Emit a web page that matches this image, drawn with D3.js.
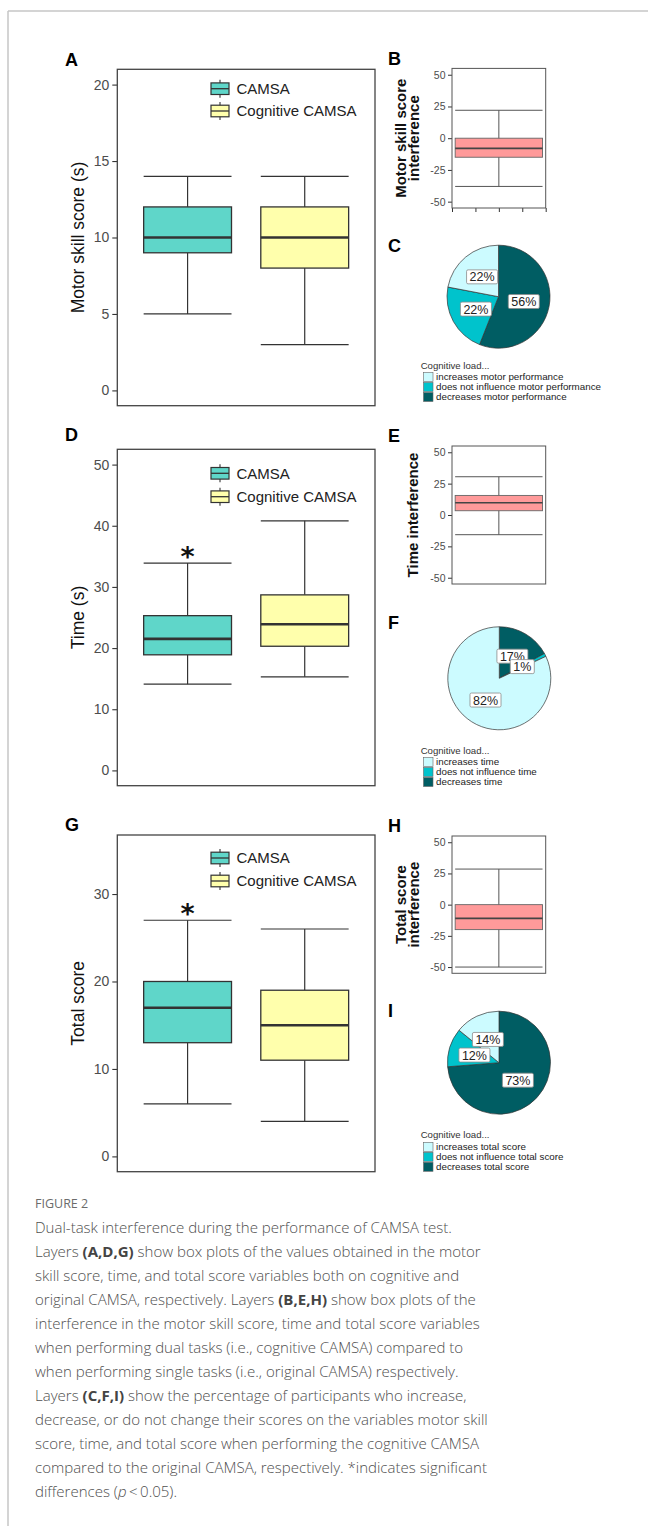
<!DOCTYPE html>
<html><head><meta charset="utf-8">
<script src="https://cdn.jsdelivr.net/npm/d3@7"></script>
<style>body{margin:0;background:#fff}svg{display:block}</style>
</head><body>
<svg id="c" width="648" height="1526"></svg>
<script>
// ---------------- DATA ----------------
const groups = ["CAMSA", "Cognitive CAMSA"];
// [min, q1, median, q3, max]
const motorCAMSA = [5, 9, 10, 12, 14];
const motorCognitive = [3, 8, 10, 12, 14];
const timeCAMSA = [14.1, 18.9, 21.5, 25.3, 33.9];
const timeCognitive = [15.3, 20.3, 23.9, 28.7, 40.8];
const totalCAMSA = [6, 13, 17, 20, 27];
const totalCognitive = [4, 11, 15, 19, 26];
const motorSignificant = [];
const timeSignificant = ["CAMSA"];
const totalSignificant = ["CAMSA"];
const motorTicks = [0, 5, 10, 15, 20];
const timeTicks = [0, 10, 20, 30, 40, 50];
const totalTicks = [0, 10, 20, 30];

const motorInterference = [-38, -15, -8, 0, 22];
const timeInterference = [-15.7, 3.4, 9.8, 15.6, 30.5];
const totalInterference = [-50, -20, -11, 0, 28.5];
const interferenceTicks = [-50, -25, 0, 25, 50];
const motorInterferenceXTicks = [0, 0.25, 0.5, 0.75, 1];

// legend order: increases, does not influence, decreases
const motorPieLabels = ["increases motor performance", "does not influence motor performance", "decreases motor performance"];
const motorPie = [22, 22, 56];
const timePieLabels = ["increases time", "does not influence time", "decreases time"];
const timePie = [82, 1, 17];
const totalPieLabels = ["increases total score", "does not influence total score", "decreases total score"];
const totalPie = [14, 12, 73];

// ---------------- STYLE ----------------
const FONT = "'Liberation Sans', Arimo, Arial, Helvetica, sans-serif";
const groupFill = {"CAMSA": "#5fd6c9", "Cognitive CAMSA": "#ffffac"};
const pieFill = ["#ccfbff", "#00c3cc", "#005d63"];
const interfFill = "#ff9a9a";

const svg = d3.select("#c");

// page frame
svg.append("line").attr("x1", 8).attr("x2", 648).attr("y1", 11).attr("y2", 11).attr("stroke", "#c6c6c6").attr("stroke-width", 1.5);
svg.append("line").attr("x1", 8).attr("x2", 8).attr("y1", 11).attr("y2", 1526).attr("stroke", "#c6c6c6").attr("stroke-width", 1.5);

function panelLetter(t, x, y) {
  svg.append("text").attr("x", x).attr("y", y).text(t)
    .attr("font-family", FONT).attr("font-weight", "bold").attr("font-size", 18).attr("fill", "#000");
}

function mainBox(cfg) {
  const g = svg.append("g");
  const {x0, x1, y0, y1} = cfg.frame;
  const x = d3.scalePoint().domain(groups).range([x0, x1]).padding(0.6);
  const bw = 0.75 * x.step();
  const y = d3.scaleLinear().domain(cfg.domain).range([y1, y0]);
  // axis
  const ax = g.append("g").attr("transform", `translate(${x0},0)`)
    .call(d3.axisLeft(y).tickValues(cfg.ticks).tickSize(5).tickPadding(3).tickFormat(d => String(d)));
  ax.select(".domain").remove();
  ax.selectAll(".tick line").attr("stroke", "#333").attr("stroke-width", 1.1);
  ax.selectAll(".tick text").attr("font-family", FONT).attr("font-size", 14).attr("fill", "#4d4d4d");
  // title
  g.append("text").attr("transform", `translate(${cfg.titleX},${(y0 + y1) / 2}) rotate(-90)`)
    .attr("text-anchor", "middle").attr("dy", "0.35em")
    .attr("font-family", FONT).attr("font-size", 17.5).attr("fill", "#111").text(cfg.title);
  // boxes
  cfg.data.forEach((s, i) => {
    const gr = groups[i], cx = x(gr);
    const [mn, q1, md, q3, mx] = s;
    const bg = g.append("g");
    bg.append("line").attr("x1", cx).attr("x2", cx).attr("y1", y(mx)).attr("y2", y(q3)).attr("stroke", "#333").attr("stroke-width", 1.2);
    bg.append("line").attr("x1", cx).attr("x2", cx).attr("y1", y(q1)).attr("y2", y(mn)).attr("stroke", "#333").attr("stroke-width", 1.2);
    [mn, mx].forEach(v => bg.append("line").attr("x1", cx - bw / 2).attr("x2", cx + bw / 2).attr("y1", y(v)).attr("y2", y(v)).attr("stroke", "#333").attr("stroke-width", 1.2));
    bg.append("rect").attr("x", cx - bw / 2).attr("width", bw).attr("y", y(q3)).attr("height", y(q1) - y(q3))
      .attr("fill", groupFill[gr]).attr("stroke", "#333").attr("stroke-width", 1.3);
    bg.append("line").attr("x1", cx - bw / 2).attr("x2", cx + bw / 2).attr("y1", y(md)).attr("y2", y(md)).attr("stroke", "#333").attr("stroke-width", 2.6);
    if (cfg.sig.includes(gr)) {
      g.append("text").attr("x", cx).attr("y", y(mx) + 3).attr("text-anchor", "middle")
        .attr("font-family", "'DejaVu Sans', sans-serif").attr("font-weight", "bold").attr("font-size", 27).attr("fill", "#111").text("*");
    }
  });
  // legend
  groups.forEach((gr, i) => {
    const cy = cfg.legendY[i], lx = 211;
    g.append("line").attr("x1", lx + 9).attr("x2", lx + 9).attr("y1", cy - 9).attr("y2", cy + 9).attr("stroke", "#333").attr("stroke-width", 1.1);
    g.append("rect").attr("x", lx).attr("y", cy - 5.8).attr("width", 18).attr("height", 11.6)
      .attr("fill", groupFill[gr]).attr("stroke", "#333").attr("stroke-width", 1.2);
    g.append("line").attr("x1", lx).attr("x2", lx + 18).attr("y1", cy).attr("y2", cy).attr("stroke", "#333").attr("stroke-width", 1.3);
    g.append("text").attr("x", 236.5).attr("y", cy).attr("dy", "0.36em").attr("font-family", FONT)
      .attr("font-size", 15).attr("fill", "#222").text(gr);
  });
  // frame
  g.append("rect").attr("x", x0).attr("y", y0).attr("width", x1 - x0).attr("height", y1 - y0)
    .attr("fill", "none").attr("stroke", "#444").attr("stroke-width", 1.3);
}

function smallBox(cfg) {
  const g = svg.append("g");
  const {x0, x1, y0, y1} = cfg.frame;
  const x = d3.scaleBand().domain(["interference"]).range([x0, x1]).padding(0.035);
  const y = d3.scaleLinear().domain([-55, 55]).range([y1, y0]);
  const ax = g.append("g").attr("transform", `translate(${x0},0)`)
    .call(d3.axisLeft(y).tickValues(interferenceTicks).tickSize(4).tickPadding(2.5).tickFormat(d => String(d)));
  ax.select(".domain").remove();
  ax.selectAll(".tick line").attr("stroke", "#333");
  ax.selectAll(".tick text").attr("font-family", FONT).attr("font-size", 10.5).attr("fill", "#4d4d4d");
  if (cfg.xTicks) {
    const xs = d3.scaleLinear().domain([0, 1]).range([x0, x1]);
    const bx = g.append("g").attr("transform", `translate(0,${y1})`)
      .call(d3.axisBottom(xs).tickValues(cfg.xTicks).tickSize(4).tickFormat(""));
    bx.select(".domain").remove();
    bx.selectAll(".tick line").attr("stroke", "#333");
  }
  cfg.title.forEach((t, i) => {
    g.append("text").attr("transform", `translate(${cfg.titleX[i]},${(y0 + y1) / 2}) rotate(-90)`)
      .attr("text-anchor", "middle").attr("dy", "0.35em").attr("font-family", FONT)
      .attr("font-weight", "bold").attr("font-size", 15).attr("fill", "#111").text(t);
  });
  const [mn, q1, md, q3, mx] = cfg.data;
  const bx0 = x("interference"), bw = x.bandwidth(), cx = bx0 + bw / 2;
  g.append("line").attr("x1", cx).attr("x2", cx).attr("y1", y(mx)).attr("y2", y(mn)).attr("stroke", "#555").attr("stroke-width", 1);
  [mn, mx].forEach(v => g.append("line").attr("x1", bx0).attr("x2", bx0 + bw).attr("y1", y(v)).attr("y2", y(v)).attr("stroke", "#555").attr("stroke-width", 1));
  g.append("rect").attr("x", bx0).attr("width", bw).attr("y", y(q3)).attr("height", y(q1) - y(q3))
    .attr("fill", interfFill).attr("stroke", "#666").attr("stroke-width", 0.9);
  g.append("line").attr("x1", bx0).attr("x2", bx0 + bw).attr("y1", y(md)).attr("y2", y(md)).attr("stroke", "#444").attr("stroke-width", 1.6);
  g.append("rect").attr("x", x0).attr("y", y0).attr("width", x1 - x0).attr("height", y1 - y0)
    .attr("fill", "none").attr("stroke", "#555").attr("stroke-width", 1);
}

function pieChart(cfg) {
  const g = svg.append("g");
  const R = 51.5;
  const items = cfg.values.map((v, i) => ({v, i, label: cfg.labels[i]}));
  const drawOrder = items.slice().reverse();
  const arcs = d3.pie().sort(null).value(d => d.v)(drawOrder);
  const arc = d3.arc().innerRadius(0).outerRadius(R);
  const pg = g.append("g").attr("transform", `translate(${cfg.cx},${cfg.cy})`);
  pg.selectAll("path").data(arcs).join("path").attr("d", arc)
    .attr("fill", d => pieFill[d.data.i]).attr("stroke", "#333").attr("stroke-width", 0.7);
  arcs.forEach(a => {
    const [lx, ly] = arc.centroid(a);
    const t = pg.append("text").attr("x", lx).attr("y", ly).attr("dy", "0.36em").attr("text-anchor", "middle")
      .attr("font-family", FONT).attr("font-size", 12.5).attr("fill", "#222").text(a.data.v + "%");
    const bb = t.node().getBBox();
    pg.insert("rect", () => t.node()).attr("x", bb.x - 3).attr("y", ly - 7).attr("width", bb.width + 6).attr("height", 14)
      .attr("rx", 1.5).attr("fill", "#fff").attr("stroke", "#8a8a8a").attr("stroke-width", 0.8);
  });
  // legend
  g.append("text").attr("x", 420.7).attr("y", cfg.legendY).attr("font-family", FONT).attr("font-size", 9.6)
    .attr("fill", "#333").text("Cognitive load...");
  items.forEach((d, i) => {
    const ry = cfg.legendY + 8.5 + i * 10;
    g.append("rect").attr("x", 423.5).attr("y", ry - 4.5).attr("width", 9.5).attr("height", 9)
      .attr("fill", pieFill[d.i]).attr("stroke", "#666").attr("stroke-width", 0.6);
    g.append("text").attr("x", 436).attr("y", ry).attr("dy", "0.35em").attr("font-family", FONT)
      .attr("font-size", 9.8).attr("fill", "#222").text(d.label);
  });
}

// ---------------- PANELS ----------------
panelLetter("A", 65, 66);
mainBox({frame: {x0: 117.3, x1: 375, y0: 69.3, y1: 405.7}, domain: [-1, 21], ticks: motorTicks,
  title: "Motor skill score (s)", titleX: 77.5, data: [motorCAMSA, motorCognitive], sig: motorSignificant, legendY: [88.7, 111]});
panelLetter("D", 65, 441);
mainBox({frame: {x0: 117.3, x1: 375, y0: 449.3, y1: 785.7}, domain: [-2.5, 52.5], ticks: timeTicks,
  title: "Time (s)", titleX: 77.5, data: [timeCAMSA, timeCognitive], sig: timeSignificant, legendY: [473.3, 496.7]});
panelLetter("G", 65, 831);
mainBox({frame: {x0: 117.3, x1: 375, y0: 835, y1: 1171.7}, domain: [-1.75, 36.75], ticks: totalTicks,
  title: "Total score", titleX: 77.5, data: [totalCAMSA, totalCognitive], sig: totalSignificant, legendY: [858, 881]});

panelLetter("B", 388, 65);
smallBox({frame: {x0: 452, x1: 545.7, y0: 68.4, y1: 208}, data: motorInterference,
  title: ["Motor skill score", "interference"], titleX: [400.7, 413.7], xTicks: motorInterferenceXTicks});
panelLetter("E", 388, 442);
smallBox({frame: {x0: 452, x1: 545.7, y0: 446, y1: 584}, data: timeInterference,
  title: ["Time interference"], titleX: [413]});
panelLetter("H", 388, 832);
smallBox({frame: {x0: 452, x1: 545.7, y0: 836, y1: 973.3}, data: totalInterference,
  title: ["Total score", "interference"], titleX: [400.7, 413.7]});

panelLetter("C", 388, 252);
pieChart({cx: 498.5, cy: 296.7, values: motorPie, labels: motorPieLabels, legendY: 368.5});
panelLetter("F", 388, 629);
pieChart({cx: 499.3, cy: 678.3, values: timePie, labels: timePieLabels, legendY: 753.5});
panelLetter("I", 388, 1017);
pieChart({cx: 499, cy: 1062.7, values: totalPie, labels: totalPieLabels, legendY: 1138.3});

// ---------------- CAPTION ----------------
const CAPFONT = "'Open Sans', 'Noto Sans', sans-serif";
svg.append("text").attr("x", 35).attr("y", 1208).attr("font-family", CAPFONT).attr("font-size", 12.5)
  .attr("font-weight", 400).attr("fill", "#6b6b6b").text("FIGURE 2");
const captionLines = [
  [["Dual-task interference during the performance of CAMSA test."]],
  [["Layers "], ["(A,D,G)", "b"], [" show box plots of the values obtained in the motor"]],
  [["skill score, time, and total score variables both on cognitive and"]],
  [["original CAMSA, respectively. Layers "], ["(B,E,H)", "b"], [" show box plots of the"]],
  [["interference in the motor skill score, time and total score variables"]],
  [["when performing dual tasks (i.e., cognitive CAMSA) compared to"]],
  [["when performing single tasks (i.e., original CAMSA) respectively."]],
  [["Layers "], ["(C,F,I)", "b"], [" show the percentage of participants who increase,"]],
  [["decrease, or do not change their scores on the variables motor skill"]],
  [["score, time, and total score when performing the cognitive CAMSA"]],
  [["compared to the original CAMSA, respectively. *indicates significant"]],
  [["differences ("], ["p", "i"], ["\u2009<\u20090.05)."]]
];
const cap = svg.append("g").attr("font-family", CAPFONT).attr("font-weight", 300).attr("fill", "#4f4f4f");
const lineEls = captionLines.map((segs, i) => {
  const t = cap.append("text").attr("x", 35).attr("y", 1233.3 + i * 24).attr("font-size", 16);
  segs.forEach(([s, f]) => {
    const ts = t.append("tspan").text(s);
    if (f === "b") ts.attr("font-weight", 700).attr("fill", "#444");
    if (f === "i") ts.attr("font-style", "italic");
  });
  return t;
});
const w0 = lineEls[0].node().getComputedTextLength();
const fs = 16 * 417 / w0;
lineEls.forEach(t => t.attr("font-size", fs));
</script>
</body></html>
